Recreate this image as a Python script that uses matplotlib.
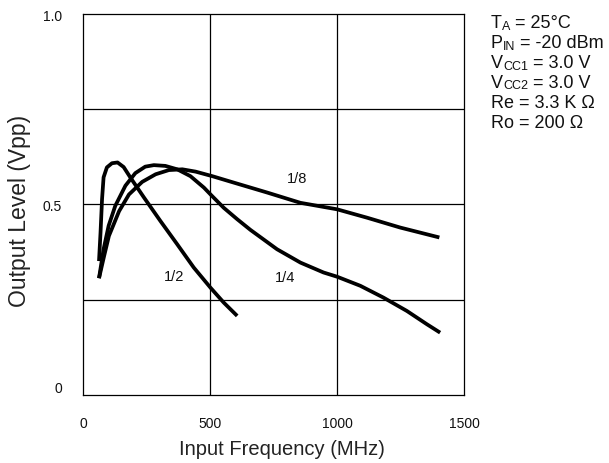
import numpy as np
import matplotlib
matplotlib.use("Agg")
import matplotlib.pyplot as plt

plt.rcParams['font.family'] = ['Liberation Sans', 'DejaVu Sans']

# curve data (MHz, Vpp)
freq_half = [63, 69, 75, 81, 94, 114, 136, 160, 187, 240, 305, 371, 436, 502, 554, 607]
out_half = [0.351, 0.426, 0.514, 0.571, 0.597, 0.608, 0.610, 0.598, 0.570, 0.518,
            0.456, 0.395, 0.334, 0.281, 0.242, 0.207]

freq_quarter = [63, 81, 101, 127, 167, 206, 245, 279, 324, 371, 423, 476, 502, 554,
                607, 659, 764, 856, 947, 1000, 1092, 1183, 1275, 1354, 1406]
out_quarter = [0.306, 0.382, 0.444, 0.496, 0.549, 0.582, 0.599, 0.603, 0.601, 0.592,
               0.574, 0.544, 0.526, 0.491, 0.461, 0.433, 0.382, 0.347, 0.321, 0.310,
               0.286, 0.255, 0.220, 0.185, 0.163]

freq_eighth = [63, 83, 102, 142, 181, 233, 286, 338, 391, 443, 509, 594, 725, 856,
               1000, 1118, 1249, 1403]
out_eighth = [0.306, 0.364, 0.417, 0.482, 0.526, 0.559, 0.579, 0.590, 0.592, 0.586,
              0.574, 0.557, 0.531, 0.504, 0.487, 0.465, 0.439, 0.413]

curve_labels = ['1/2', '1/4', '1/8']
label_pos = [(357, 0.311), (797, 0.308), (843, 0.570)]

x_ticks = [0, 500, 1000, 1500]
y_ticks = [0, 0.5, 1.0]
y_tick_labels = ['0', '0.5', '1.0']

fig = plt.figure(figsize=(6.09, 4.64), dpi=100)
ax = fig.add_axes([0.1363, 0.1472, 0.6256, 0.8205])

for f, v in [(freq_half, out_half), (freq_quarter, out_quarter), (freq_eighth, out_eighth)]:
    ax.plot(f, v, color='black', lw=2.7, solid_joinstyle='round', solid_capstyle='butt')

for lab, (fx, fy) in zip(curve_labels, label_pos):
    ax.text(fx, fy, lab, ha='center', va='center', fontsize=10.5, color='#111111')

ax.set_xlim(0, 1500)
ax.set_ylim(0, 1.0)
ax.set_xticks(x_ticks)
ax.set_yticks(y_ticks)
ax.set_yticklabels([])
for v in [500, 1000]:
    ax.axvline(v, color='black', lw=0.9)
for v in [0.25, 0.5, 0.75]:
    ax.axhline(v, color='black', lw=0.9)
for s in ax.spines.values():
    s.set_linewidth(0.9)
ax.tick_params(length=0, labelsize=10, labelcolor='#111111')
ax.tick_params(axis='x', pad=15)

# y labels drawn by hand: the "0" sits a bit above the axis in the original
for yv, lab in zip(y_ticks, y_tick_labels):
    dy = 5 if yv == 0 else -1.5
    ax.annotate(lab, xy=(0, yv), xycoords=('axes fraction', 'data'),
                xytext=(-15, dy), textcoords='offset points',
                ha='right', va='center', fontsize=10, color='#111111',
                annotation_clip=False)

fig.text(282 / 609, 1 - 455 / 464, 'Input Frequency (MHz)', fontsize=14.5,
         color='#222222', ha='center', va='baseline')
fig.text(20 / 609, 1 - 211 / 464, 'Output Level (Vpp)', fontsize=16.5,
         color='#222222', ha='center', va='center', rotation=90)

# conditions block with small-cap subscripts
cond_lines = [
    [('T', 13), ('A', 9), (' = 25°C', 13)],
    [('P', 13), ('IN', 9), (' = -20 dBm', 13)],
    [('V', 13), ('CC1', 9), (' = 3.0 V', 13)],
    [('V', 13), ('CC2', 9), (' = 3.0 V', 13)],
    [('Re = 3.3 K Ω', 13)],
    [('Ro = 200 Ω', 13)],
]
y0 = 1 - 28.5 / 464
for i, parts in enumerate(cond_lines):
    y = y0 - i * 20 / 464
    prev = None
    for s, size in parts:
        if prev is None:
            prev = fig.text(491 / 609, y, s, fontsize=size, color='#111111', va='baseline')
        else:
            prev = ax.annotate(s, xy=(1, 0), xycoords=prev, fontsize=size,
                               color='#111111', va='bottom', ha='left',
                               annotation_clip=False)

fig.savefig('out.png', dpi=100)
